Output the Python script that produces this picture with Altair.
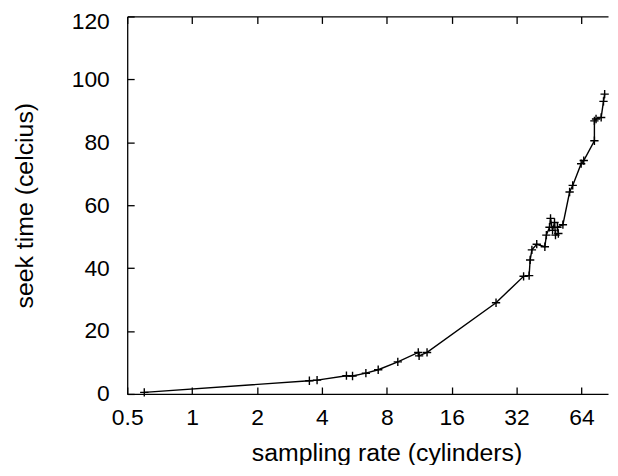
import altair as alt
import pandas as pd

rate = [0.6, 3.5, 3.8, 5.2, 5.55, 6.4, 7.3, 9.0, 11.2, 11.3, 12.3, 25.7,
        34.5, 36.6, 37.0, 37.7, 39.7, 43.3, 44.0, 45.5, 46.0, 47.0, 48.0,
        48.5, 50.0, 49.5, 52.5, 56.4, 58.3, 63.8, 65.6, 73.5, 73.5, 74.8,
        79.0, 81.0, 82.0]
seek = [0.5, 4.2, 4.4, 5.8, 5.7, 6.6, 7.7, 10.2, 13.2, 12.1, 13.2, 29.0,
        37.4, 37.6, 42.6, 45.8, 47.6, 46.8, 50.5, 53.0, 55.8, 52.0, 54.5,
        50.5, 51.0, 53.0, 53.8, 64.2, 66.3, 73.2, 74.2, 80.5, 86.8, 87.4,
        87.9, 93.0, 95.3]
x_ticks = [0.5, 1, 2, 4, 8, 16, 32, 64]
y_ticks = [0, 20, 40, 60, 80, 100, 120]

df = pd.DataFrame({"rate": rate, "seek": seek, "idx": list(range(len(rate)))})

W, H = 484, 380
FONT = "Liberation Sans"
xs = alt.Scale(type="log", base=2, domain=[0.5, 85], nice=False)
ys = alt.Scale(domain=[0, 120], nice=False, zero=False)

common = dict(labelFont=FONT, titleFont=FONT, labelColor="black", titleColor="black",
              domainColor="black", tickColor="black", grid=False,
              titleFontWeight="normal")

# bottom labels + domain
ax_bottom = alt.Axis(values=x_ticks, format="~g", ticks=False, tickSize=0, labelPadding=13,
                     labelFontSize=23, title="sampling rate (cylinders)", titleFontSize=25,
                     titleX=261, titleY=67, titleBaseline="alphabetic", titleAlign="center",
                     domainWidth=1.3, labelFlush=False, labelOverlap=False, **common)
# inward ticks at the bottom edge
ax_bottom_ticks = alt.Axis(orient="top", offset=-H, values=x_ticks, labels=False, domain=False,
                           tickSize=7, tickWidth=1.3, title=None, **common)
# top border with inward ticks
ax_top = alt.Axis(orient="bottom", offset=-H, values=x_ticks, labels=False, domain=True,
                  domainWidth=1.3, tickSize=7, tickWidth=1.3, title=None, **common)

ax_left = alt.Axis(values=y_ticks, ticks=False, tickSize=0, labelPadding=18, labelFontSize=23,
                   labelOffset=alt.condition("datum.value == 120", alt.value(5), alt.value(0)),
                   title="seek time (celcius)", titleFontSize=25, titleX=-95, titleY=H / 2,
                   titleBaseline="alphabetic", titleAlign="center", titleAngle=270,
                   domainWidth=1.3, labelFlush=False, labelOverlap=False, **common)
ax_left_ticks = alt.Axis(orient="right", offset=-W, values=y_ticks, labels=False, domain=False,
                         tickSize=7, tickWidth=1.3, title=None, **common)

line = alt.Chart(df).mark_line(color="black", strokeWidth=1.4).encode(
    x=alt.X("rate:Q", scale=xs, axis=ax_bottom),
    y=alt.Y("seek:Q", scale=ys, axis=ax_left),
    order=alt.Order("idx:Q"),
)
pts = alt.Chart(df).mark_point(shape="M-1,0H1M0,-1V1", size=70, filled=False,
                               color="black", strokeWidth=1.4, opacity=1).encode(
    x=alt.X("rate:Q", scale=xs, axis=ax_top),
    y=alt.Y("seek:Q", scale=ys, axis=ax_left_ticks),
)
ghost = alt.Chart(df).mark_point(opacity=0).encode(
    x=alt.X("rate:Q", scale=xs, axis=ax_bottom_ticks),
    y=alt.Y("seek:Q", scale=ys, axis=None),
)

chart = alt.layer(line, pts, ghost).resolve_axis(x="independent", y="independent").properties(
    width=W, height=H,
    autosize=alt.AutoSizeParams(type="none"),
    padding={"left": 120, "top": 7, "right": 2, "bottom": 70},
    background="white",
).configure_view(stroke=None)

chart.save("out.html", embed_options={"renderer": "svg", "actions": False})
